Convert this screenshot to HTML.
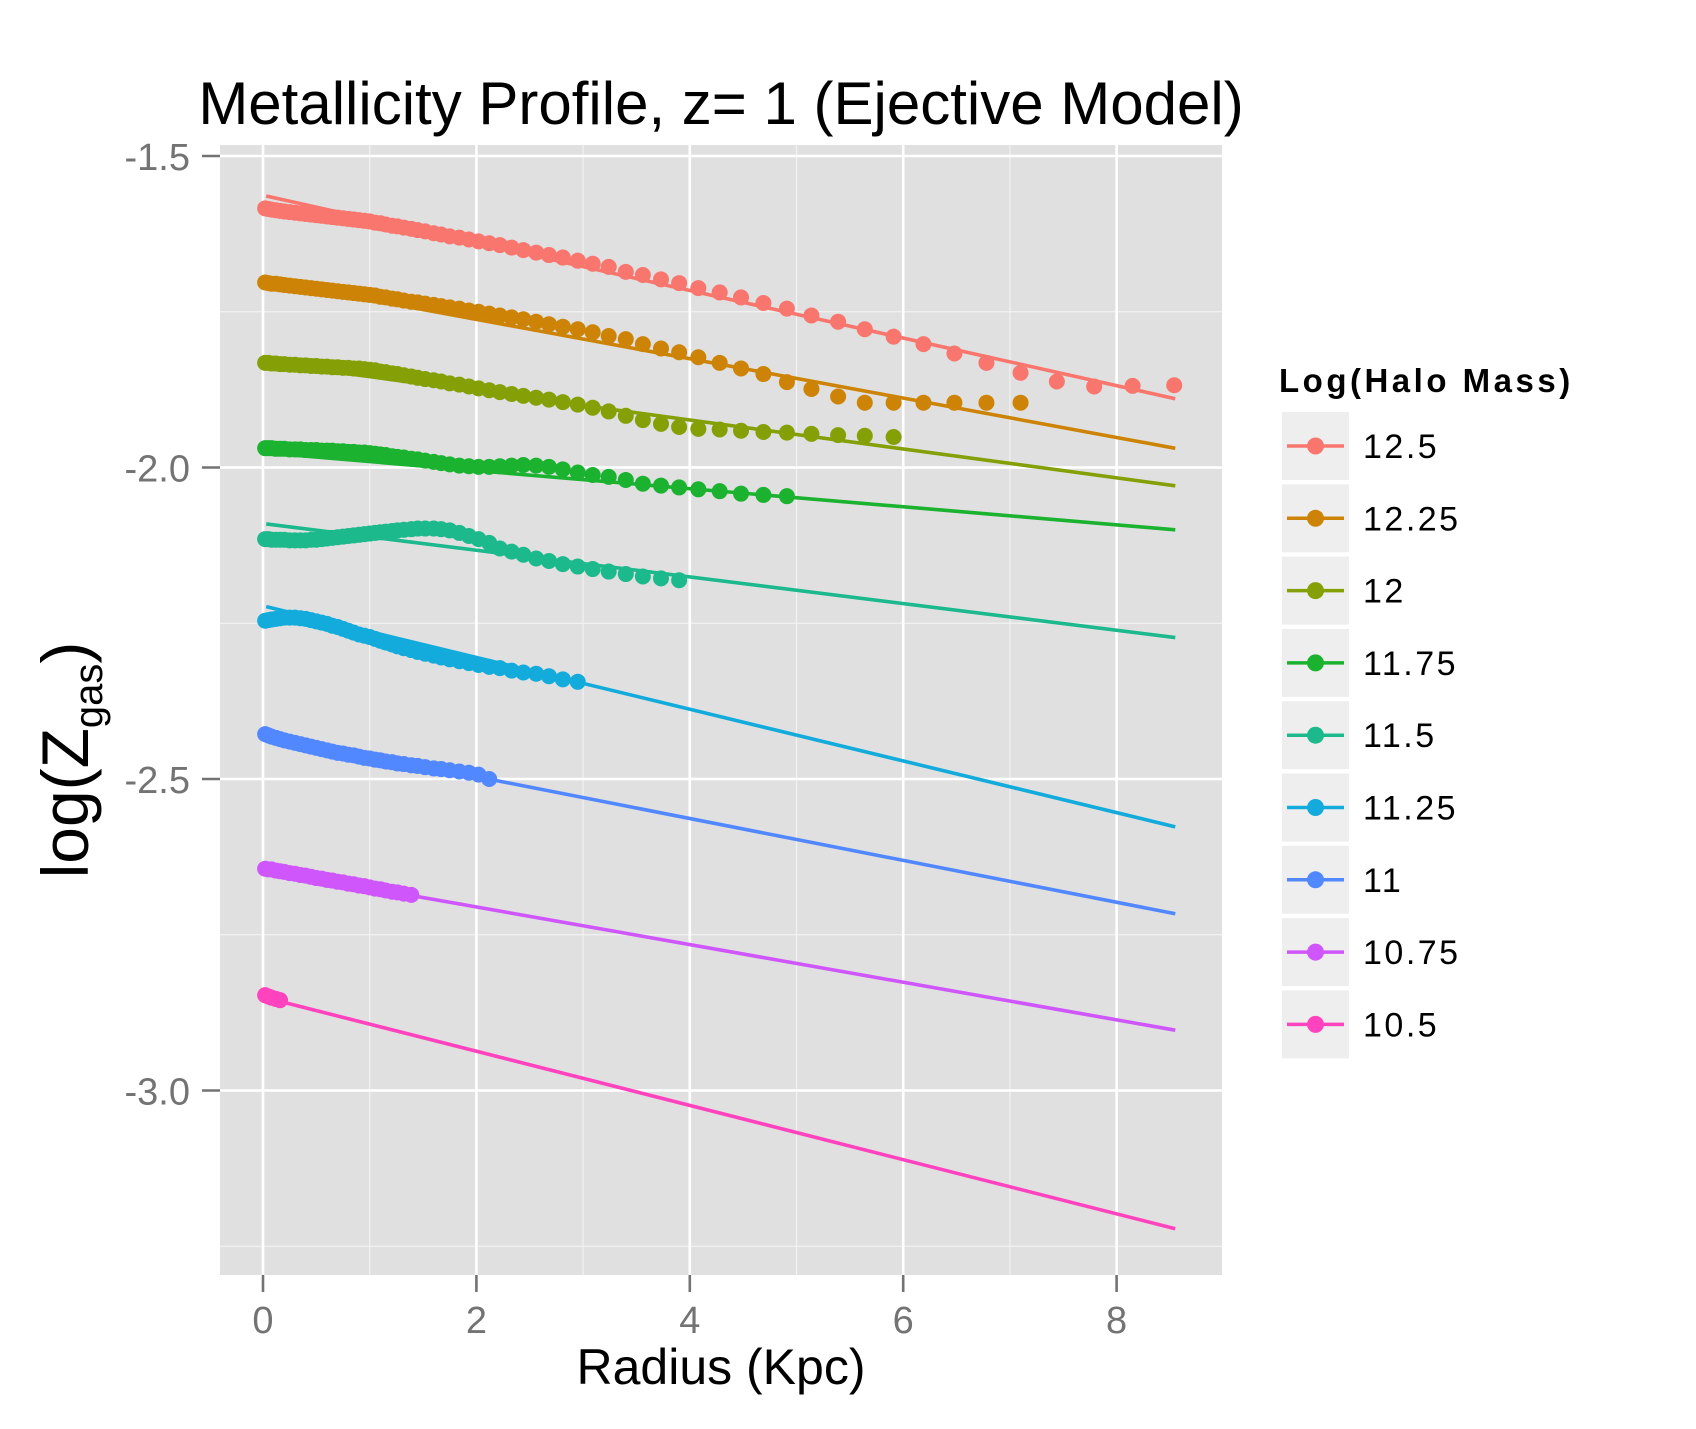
<!DOCTYPE html>
<html><head><meta charset="utf-8"><style>
html,body{margin:0;padding:0;background:#fff;}
svg{display:block;font-family:"Liberation Sans",Arial,sans-serif;}
</style></head><body>
<svg id="chart" width="1696" height="1429" viewBox="0 0 1696 1429">
<text x="721" y="124" font-size="60" text-anchor="middle" fill="#000">Metallicity Profile, z= 1 (Ejective Model)</text>
<rect x="220" y="145" width="1002" height="1130" fill="#E0E0E0"/>
<g id="grid"></g>
<g id="lines"></g>
<g id="points"></g>
<g id="axes"></g>
<text x="721" y="1384" font-size="50" text-anchor="middle" fill="#000">Radius (Kpc)</text>
<text transform="translate(88,760) rotate(-90)" font-size="66" text-anchor="middle" fill="#000">log(Z<tspan font-size="40" dy="14">gas</tspan><tspan dy="-14">)</tspan></text>
<text x="1279" y="392" font-size="33" font-weight="bold" letter-spacing="3.5" fill="#000">Log(Halo Mass)</text>
<g id="legend"></g>
</svg>
<script>
const categories = ["12.5","12.25","12","11.75","11.5","11.25","11","10.75","10.5"];
const colors = ["#F8766D","#CD8406","#84A006","#1AB22F","#1CB98C","#12ABDC","#5187FF","#CF56FA","#FF42BD"];
const radii = [0.02,0.05,0.08,0.12,0.16,0.2,0.25,0.3,0.35,0.4,0.45,0.5,0.55,0.6,0.65,0.7,0.75,0.8,0.85,0.9,0.95,
1.00,1.05,1.10,1.15,1.21,1.26,1.32,1.39,1.45,1.52,1.60,1.67,1.75,1.84,1.93,2.02,2.12,2.22,2.33,2.44,2.56,2.68,2.81,2.95,3.09,
3.24,3.40,3.56,3.73,3.90,4.08,4.28,4.48,4.69,4.91,5.14,5.39,5.64,5.91,6.19,6.48,6.78,7.10,7.44,7.79,8.15,8.54];
const s125 = [-1.584,-1.585,-1.586,-1.587,-1.588,-1.589,-1.590,-1.591,-1.592,-1.593,-1.594,-1.595,-1.596,-1.597,-1.598,-1.599,-1.600,-1.601,-1.602,-1.603,-1.604,
-1.605,-1.607,-1.608,-1.610,-1.612,-1.613,-1.615,-1.617,-1.619,-1.621,-1.624,-1.626,-1.629,-1.631,-1.634,-1.637,-1.640,-1.643,-1.647,-1.651,-1.655,-1.659,-1.663,-1.668,-1.673,
-1.678,-1.686,-1.691,-1.698,-1.704,-1.712,-1.719,-1.727,-1.736,-1.745,-1.756,-1.766,-1.778,-1.790,-1.802,-1.817,-1.832,-1.848,-1.862,-1.870,-1.869,-1.868];
const s1225 = [-1.703,-1.704,-1.705,-1.705,-1.706,-1.707,-1.708,-1.709,-1.710,-1.711,-1.712,-1.713,-1.714,-1.715,-1.716,-1.717,-1.718,-1.719,-1.720,-1.721,-1.722,
-1.723,-1.724,-1.726,-1.727,-1.729,-1.730,-1.732,-1.734,-1.735,-1.737,-1.739,-1.741,-1.743,-1.745,-1.748,-1.750,-1.753,-1.756,-1.759,-1.762,-1.766,-1.770,-1.774,-1.778,-1.783,
-1.789,-1.794,-1.802,-1.809,-1.815,-1.823,-1.832,-1.841,-1.850,-1.863,-1.874,-1.886,-1.896,-1.896,-1.896,-1.896,-1.896,-1.896];
const s12 = [-1.832,-1.832,-1.833,-1.833,-1.834,-1.834,-1.835,-1.835,-1.836,-1.836,-1.837,-1.837,-1.838,-1.838,-1.839,-1.839,-1.840,-1.840,-1.841,-1.841,-1.842,
-1.843,-1.844,-1.846,-1.847,-1.849,-1.850,-1.852,-1.854,-1.856,-1.858,-1.860,-1.862,-1.865,-1.867,-1.870,-1.873,-1.876,-1.879,-1.882,-1.885,-1.888,-1.891,-1.895,-1.899,-1.904,
-1.910,-1.917,-1.924,-1.930,-1.935,-1.938,-1.939,-1.941,-1.943,-1.944,-1.946,-1.948,-1.949,-1.951];
const s1175 = [-1.969,-1.969,-1.969,-1.970,-1.970,-1.970,-1.971,-1.971,-1.971,-1.972,-1.972,-1.972,-1.973,-1.973,-1.973,-1.974,-1.974,-1.975,-1.975,-1.976,-1.976,
-1.977,-1.978,-1.979,-1.980,-1.982,-1.983,-1.984,-1.986,-1.987,-1.989,-1.991,-1.993,-1.995,-1.997,-1.998,-1.999,-1.999,-1.998,-1.997,-1.996,-1.997,-1.999,-2.003,-2.008,-2.012,
-2.015,-2.020,-2.026,-2.029,-2.032,-2.035,-2.038,-2.042,-2.044,-2.046];
const s115 = [-2.115,-2.115,-2.116,-2.116,-2.116,-2.116,-2.117,-2.117,-2.117,-2.117,-2.116,-2.116,-2.115,-2.114,-2.113,-2.112,-2.111,-2.110,-2.109,-2.108,-2.107,
-2.106,-2.105,-2.104,-2.103,-2.102,-2.101,-2.100,-2.099,-2.098,-2.098,-2.098,-2.099,-2.101,-2.105,-2.110,-2.115,
-2.121,-2.130,-2.135,-2.140,-2.146,-2.150,-2.155,-2.159,-2.163,-2.167,-2.171,-2.175,-2.178,-2.181];
const s1125 = [-2.246,-2.245,-2.244,-2.243,-2.242,-2.241,-2.241,-2.241,-2.242,-2.243,-2.245,-2.247,-2.249,-2.251,-2.254,-2.256,-2.259,-2.262,-2.265,-2.268,-2.270,
-2.272,-2.275,-2.278,-2.281,-2.284,-2.287,-2.290,-2.293,-2.296,-2.299,-2.302,-2.305,-2.308,-2.311,-2.314,-2.317,
-2.320,-2.322,-2.326,-2.329,-2.331,-2.335,-2.340,-2.344];
const s11 = [-2.428,-2.430,-2.432,-2.434,-2.436,-2.438,-2.440,-2.442,-2.444,-2.446,-2.448,-2.450,-2.452,-2.454,-2.456,-2.458,-2.459,-2.461,-2.462,-2.464,-2.466,
-2.467,-2.469,-2.470,-2.472,-2.473,-2.475,-2.476,-2.478,-2.479,-2.481,-2.483,-2.484,-2.486,-2.488,-2.490,-2.493,-2.500];
const s1075 = [-2.644,-2.645,-2.645,-2.647,-2.648,-2.649,-2.651,-2.652,-2.654,-2.655,-2.657,-2.659,-2.660,-2.662,-2.663,-2.665,-2.666,-2.668,-2.669,-2.671,-2.672,
-2.674,-2.676,-2.677,-2.679,-2.681,-2.682,-2.684,-2.686];
const s105 = [-2.847,-2.849,-2.851,-2.853,-2.855];
const series = [s125,s1225,s12,s1175,s115,s1125,s11,s1075,s105];
const fitIntercepts = [-1.563,-1.699,-1.831,-1.976,-2.090,-2.222,-2.429,-2.645,-2.850];
const fitSlopes = [-0.0382,-0.0316,-0.0232,-0.0145,-0.0214,-0.0415,-0.0336,-0.0302,-0.0435];
const fitRange = [0.03, 8.55];
const xTicks = [0,2,4,6,8];
const xMinor = [1,3,5,7];
const yTicks = [-1.5,-2.0,-2.5,-3.0];
const yTickLabels = ["-1.5","-2.0","-2.5","-3.0"];
const yMinor = [-1.75,-2.25,-2.75,-3.25];

const NS = "http://www.w3.org/2000/svg";
const PR = 1222;
function X(v){ return 263 + v*106.7; }
function Y(v){ return 156 + (-1.5 - v)*623; }
function mk(tag, attrs, parent){ const e=document.createElementNS(NS,tag); for(const k in attrs) e.setAttribute(k,attrs[k]); parent.appendChild(e); return e; }
const grid=document.getElementById('grid'), lines=document.getElementById('lines'), pts=document.getElementById('points'), axes=document.getElementById('axes'), leg=document.getElementById('legend');
xMinor.forEach(v=>{ const l=mk('line',{x1:X(v),x2:X(v),y1:145,y2:1275,stroke:'#F2F2F2','stroke-width':1.2},grid);

 });
yMinor.forEach(v=>{ const l=mk('line',{x1:220,x2:PR,y1:Y(v),y2:Y(v),stroke:'#F2F2F2','stroke-width':1.2},grid);

 });
xTicks.forEach(v=>{ const l=mk('line',{x1:X(v),x2:X(v),y1:145,y2:1275,stroke:'#FFFFFF','stroke-width':2.6},grid);


const t=mk('line',{x1:X(v),x2:X(v),y1:1275,y2:1292,stroke:'#737373','stroke-width':2.6},axes);


const tx=mk('text',{x:X(v),y:1333,'font-size':38,'text-anchor':'middle',fill:'#737373'},axes); tx.textContent=String(v);

 });
yTicks.forEach((v,i)=>{ const l=mk('line',{x1:220,x2:PR,y1:Y(v),y2:Y(v),stroke:'#FFFFFF','stroke-width':2.6},grid);


const t=mk('line',{x1:202,x2:220,y1:Y(v),y2:Y(v),stroke:'#737373','stroke-width':2.6},axes);


const tx=mk('text',{x:190,y:Y(v)+14,'font-size':38,'text-anchor':'end',fill:'#737373'},axes); tx.textContent=yTickLabels[i];

 });
series.forEach((s,i)=>{
  const a=fitRange[0], b=fitRange[1];
  const l=mk('line',{x1:X(a),y1:Y(fitIntercepts[i]+fitSlopes[i]*a),x2:X(b),y2:Y(fitIntercepts[i]+fitSlopes[i]*b),stroke:colors[i],'stroke-width':3.6},lines);
  
  
  s.forEach((v,j)=>{ const c=mk('circle',{cx:X(radii[j]),cy:Y(v),r:8,fill:colors[i]},pts);
    
     });
  const top=412+i*72.3;
  const k=mk('rect',{x:1282,y:top,width:67,height:68,fill:'#EEEEEE'},leg);
  
  
  const kl=mk('line',{x1:1287,x2:1344,y1:top+34,y2:top+34,stroke:colors[i],'stroke-width':3.5},leg);
  
  
  const kc=mk('circle',{cx:1315.5,cy:top+34,r:8.5,fill:colors[i]},leg);
  
  
  const kt=mk('text',{x:1363,y:top+46,'font-size':34,'letter-spacing':2.5,fill:'#000'},leg); kt.textContent=categories[i];
  
  
});
</script>
</body></html>
